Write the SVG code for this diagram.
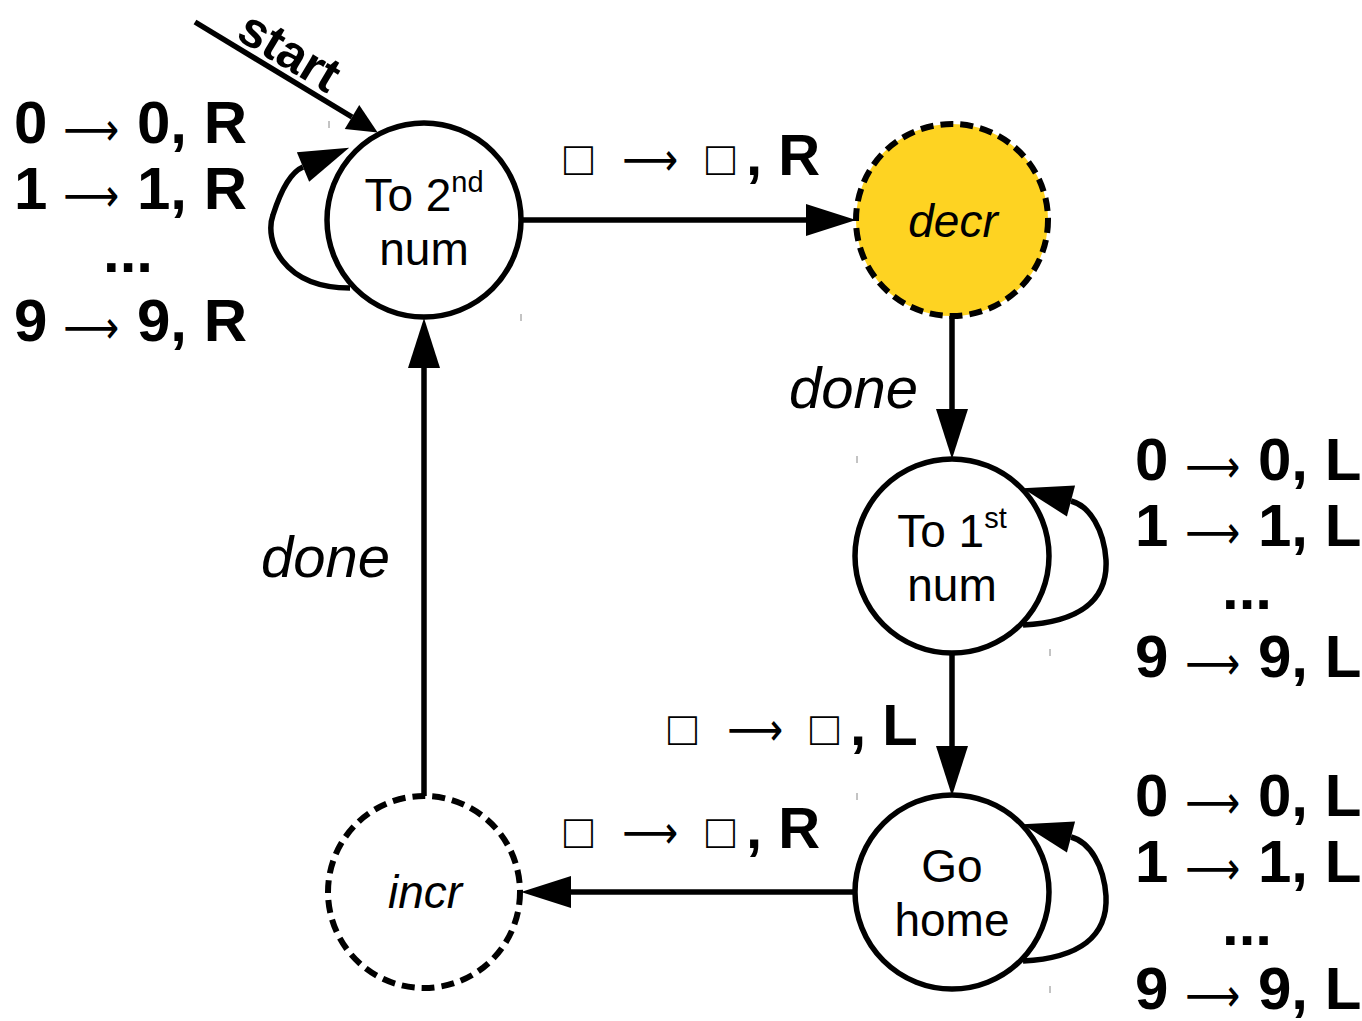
<svg xmlns="http://www.w3.org/2000/svg" width="1362" height="1021" viewBox="0 0 1362 1021">
<defs>
<style>
.node{fill:#fff;stroke:#000;stroke-width:5.5}
.dash{stroke-width:6;stroke-dasharray:13 7}
.edge{fill:none;stroke:#000;stroke-width:5.5}
.lbl{font-family:"Liberation Sans",Arial,sans-serif;font-size:46px;fill:#000;text-anchor:middle}
.it{font-style:italic}
.list{font-family:"Liberation Sans",Arial,sans-serif;font-size:60px;font-weight:bold;fill:#000}
.ar{font-family:"DejaVu Sans",sans-serif;font-weight:normal;font-size:46px}
.tr{font-family:"Liberation Sans",Arial,sans-serif;font-size:58px;fill:#000}
.box{font-weight:normal;font-size:48px}
.b{font-weight:bold}
.done{font-family:"Liberation Sans",Arial,sans-serif;font-size:58px;font-style:italic;fill:#000}
.tick{stroke:#888;stroke-width:1}
</style>
<marker id="arr" markerUnits="userSpaceOnUse" markerWidth="50" markerHeight="32" refX="0" refY="16" orient="auto" overflow="visible">
<path d="M0,0 L50,16 L0,32 z" fill="#000"/>
</marker>
<marker id="arrS" markerUnits="userSpaceOnUse" markerWidth="30" markerHeight="28" refX="0" refY="14" orient="auto" overflow="visible">
<path d="M0,0 L30,14 L0,28 z" fill="#000"/>
</marker>
</defs>
<rect width="1362" height="1021" fill="#fff"/>

<g id="connectors">
<line class="edge" x1="195" y1="22" x2="352" y2="117" marker-end="url(#arrS)"/>
<line class="edge" x1="521" y1="220" x2="806" y2="220" marker-end="url(#arr)"/>
<line class="edge" x1="952" y1="316" x2="952" y2="409" marker-end="url(#arr)"/>
<line class="edge" x1="952" y1="652" x2="952" y2="746" marker-end="url(#arr)"/>
<line class="edge" x1="855" y1="892" x2="571" y2="892" marker-end="url(#arr)"/>
<line class="edge" x1="424" y1="796" x2="424" y2="368" marker-end="url(#arr)"/>
<path class="edge" d="M350,288 C282,288 264,240 273,215 C281,190 291,172 303,167" marker-end="url(#arr)"/>
<path class="edge" d="M1023,625 C1080,622 1108,600 1106,560 C1104,530 1090,506 1071,501" marker-end="url(#arr)"/>
<path class="edge" d="M1023,961 C1080,958 1108,936 1106,896 C1104,866 1090,842 1071,837" marker-end="url(#arr)"/>
</g>

<g id="node-to2nd">
<circle class="node" cx="424" cy="220" r="97"/>
<text class="lbl" x="424" y="211">To 2<tspan font-size="29" dy="-19">nd</tspan></text>
<text class="lbl" x="424" y="265">num</text>
</g>

<g id="node-decr">
<circle class="node dash" cx="952" cy="220" r="96" style="fill:#FED322"/>
<text class="lbl it" x="953" y="237">decr</text>
</g>

<g id="node-to1st">
<circle class="node" cx="952" cy="556" r="97"/>
<text class="lbl" x="952" y="547">To 1<tspan font-size="29" dy="-19">st</tspan></text>
<text class="lbl" x="952" y="601">num</text>
</g>

<g id="node-gohome">
<circle class="node" cx="952" cy="892" r="97"/>
<text class="lbl" x="952" y="882">Go</text>
<text class="lbl" x="952" y="936">home</text>
</g>

<g id="node-incr">
<circle class="node dash" cx="424" cy="892" r="96"/>
<text class="lbl it" x="425" y="908">incr</text>
</g>

<g id="labels">
<text class="list" transform="translate(281,66) rotate(31)" text-anchor="middle" style="font-size:50px">start</text>

<text class="list" y="143"><tspan x="14">0</tspan><tspan class="ar" x="63" dy="2" textLength="56" lengthAdjust="spacingAndGlyphs">⟶</tspan><tspan x="137" dy="-2">0, R</tspan></text>
<text class="list" y="209"><tspan x="14">1</tspan><tspan class="ar" x="63" dy="2" textLength="56" lengthAdjust="spacingAndGlyphs">⟶</tspan><tspan x="137" dy="-2">1, R</tspan></text>
<text class="list" x="128" y="272" text-anchor="middle">...</text>
<text class="list" y="341"><tspan x="14">9</tspan><tspan class="ar" x="63" dy="2" textLength="56" lengthAdjust="spacingAndGlyphs">⟶</tspan><tspan x="137" dy="-2">9, R</tspan></text>

<text class="list" y="480"><tspan x="1135">0</tspan><tspan class="ar" x="1185" dy="2" textLength="55" lengthAdjust="spacingAndGlyphs">⟶</tspan><tspan x="1258" dy="-2">0, L</tspan></text>
<text class="list" y="546"><tspan x="1135">1</tspan><tspan class="ar" x="1185" dy="2" textLength="55" lengthAdjust="spacingAndGlyphs">⟶</tspan><tspan x="1258" dy="-2">1, L</tspan></text>
<text class="list" x="1247" y="609" text-anchor="middle">...</text>
<text class="list" y="677"><tspan x="1135">9</tspan><tspan class="ar" x="1185" dy="2" textLength="55" lengthAdjust="spacingAndGlyphs">⟶</tspan><tspan x="1258" dy="-2">9, L</tspan></text>

<text class="list" y="816"><tspan x="1135">0</tspan><tspan class="ar" x="1185" dy="2" textLength="55" lengthAdjust="spacingAndGlyphs">⟶</tspan><tspan x="1258" dy="-2">0, L</tspan></text>
<text class="list" y="882"><tspan x="1135">1</tspan><tspan class="ar" x="1185" dy="2" textLength="55" lengthAdjust="spacingAndGlyphs">⟶</tspan><tspan x="1258" dy="-2">1, L</tspan></text>
<text class="list" x="1247" y="945" text-anchor="middle">...</text>
<text class="list" y="1009"><tspan x="1135">9</tspan><tspan class="ar" x="1185" dy="2" textLength="55" lengthAdjust="spacingAndGlyphs">⟶</tspan><tspan x="1258" dy="-2">9, L</tspan></text>

<text class="tr" y="175"><tspan class="box" x="564">□</tspan><tspan class="ar" x="622" textLength="56" lengthAdjust="spacingAndGlyphs">⟶</tspan><tspan class="box" x="706">□</tspan><tspan class="b" x="746">, R</tspan></text>
<text class="tr" y="745"><tspan class="box" x="668">□</tspan><tspan class="ar" x="727" textLength="56" lengthAdjust="spacingAndGlyphs">⟶</tspan><tspan class="box" x="810">□</tspan><tspan class="b" x="850">, L</tspan></text>
<text class="tr" y="848"><tspan class="box" x="564">□</tspan><tspan class="ar" x="622" textLength="56" lengthAdjust="spacingAndGlyphs">⟶</tspan><tspan class="box" x="706">□</tspan><tspan class="b" x="746">, R</tspan></text>

<text class="done" x="789" y="408">done</text>
<text class="done" x="261" y="577">done</text>
</g>

<g id="ticks">
<line class="tick" x1="329" y1="121" x2="329" y2="128"/>
<line class="tick" x1="521" y1="314" x2="521" y2="321"/>
<line class="tick" x1="857" y1="456" x2="857" y2="463"/>
<line class="tick" x1="1050" y1="649" x2="1050" y2="656"/>
<line class="tick" x1="857" y1="793" x2="857" y2="800"/>
<line class="tick" x1="1050" y1="986" x2="1050" y2="993"/>
</g>
</svg>
